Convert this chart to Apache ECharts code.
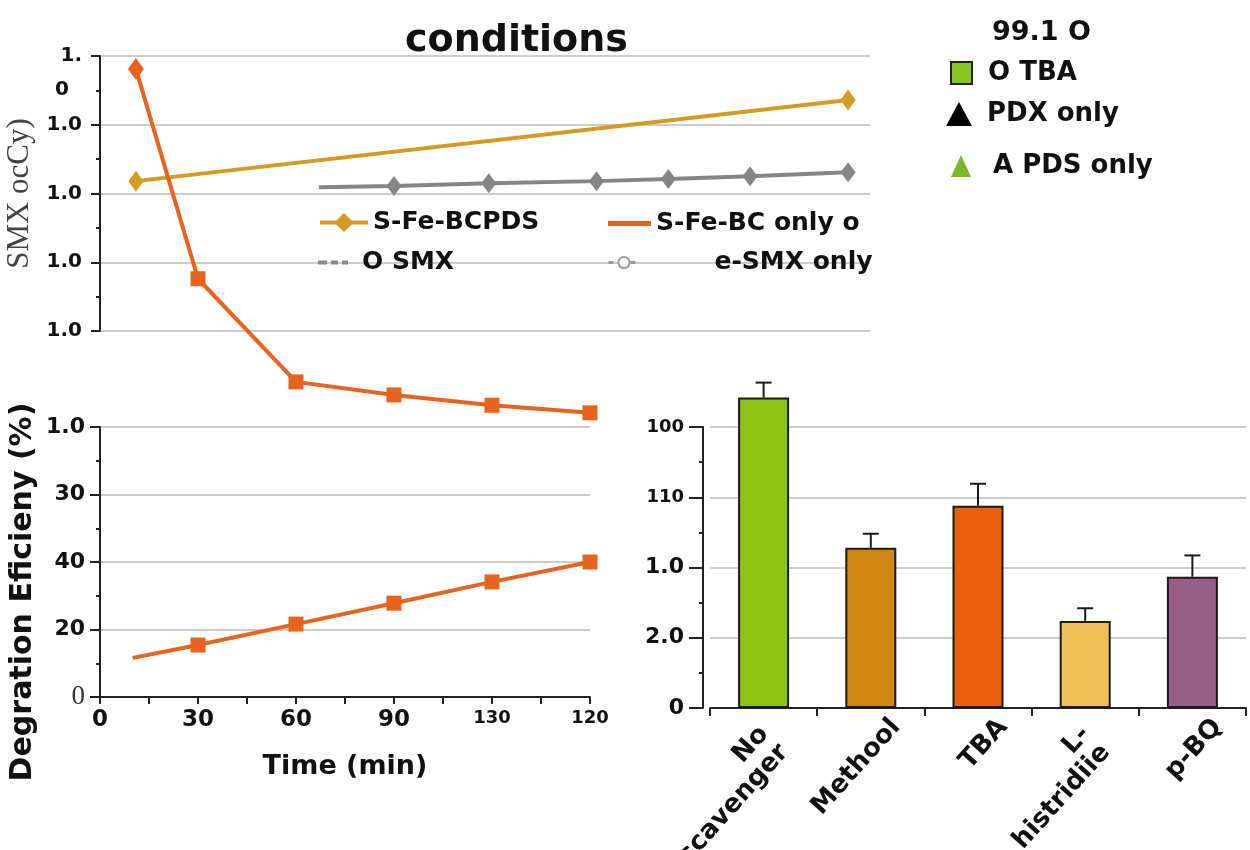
<!DOCTYPE html>
<html>
<head>
<meta charset="utf-8">
<script src="https://cdn.jsdelivr.net/npm/echarts@6/dist/echarts.min.js"></script>
<style>
    html, body { margin: 0; background: #fff; }
    #main { width: 1250px; height: 850px; }
</style>
</head>
<body>
<div id="main"></div>
<script type="text/javascript">
    // tick labels as printed on the figure
    var timeTicks = ['0', '30', '60', '90', '130', '120'];
    var topYTicks = ['1.0', '1.0', '1.0', '1.0', '1.'];
    var lowYTicks = ['0', '20', '40', '30', '1.0'];
    var barYTicks = ['0', '2.0', '1.0', '110', '100'];

    // upper panel series (time, value)
    var fePdsTime = [11, 229];
    var fePdsVal = [2.18, 3.36];
    var smxTime = [67, 90, 119, 152, 174, 199, 229];
    var smxVal = [2.09, 2.11, 2.15, 2.18, 2.21, 2.25, 2.31];
    var feOnlyTime = [11, 30, 60, 90, 120, 150];
    var feOnlyVal = [3.81, 0.76, -0.74, -0.93, -1.08, -1.19];

    // lower panel
    var effTime = [10, 30, 60, 90, 120, 150];
    var effVal = [11.6, 15.4, 21.6, 27.8, 34.1, 40.0];

    // scavenger bars
    var scavengers = ['No\nscavenger', 'Methool', 'TBA', 'L-\nhistridiie', 'p-BQ'];
    var removal = [110.5, 57.0, 72.0, 31.0, 46.7];
    var removalErr = [5.3, 5.0, 7.8, 4.5, 7.6];

    var F = 'DejaVu Sans';
    var barColors = ['#8DC415', '#D08710', '#EA600C', '#EEC155', '#9A5C88'];
    var K = 490 / 150; // px per time unit on the left panels

    var myChart = echarts.init(document.getElementById('main'));

    function pts(xs, ys) {
        return xs.map(function (x, i) { return [x, ys[i]]; });
    }

    function legendAt(name, left, top, extra) {
        var l = {
            data: [name], left: left, top: top, padding: 0, itemGap: 0,
            selectedMode: false, itemWidth: 45, itemHeight: 18,
            lineStyle: {width: 4},
            textStyle: {fontFamily: F, fontWeight: 'bold', fontSize: 25, color: '#111'}
        };
        for (var k in extra) { l[k] = extra[k]; }
        return l;
    }

    var axisLine = {show: true, lineStyle: {color: '#222', width: 2}};
    var gridLine = {show: true, lineStyle: {color: '#cccccc', width: 2}};

    var option = {
        animation: false,
        title: [
            {text: 'conditions', left: 400, top: 17,
                textStyle: {fontFamily: F, fontWeight: 'bold', fontSize: 38, color: '#111'}},
            {text: '99.1 O', left: 987, top: 14,
                textStyle: {fontFamily: F, fontWeight: 'bold', fontSize: 27, color: '#111'}}
        ],
        legend: [
            legendAt('S-Fe-BCPDS', 318, 210, {itemWidth: 48, itemHeight: 24}),
            legendAt('S-Fe-BC only o', 608, 211, {itemWidth: 43, itemHeight: 5,
                data: [{name: 'S-Fe-BC only o', icon: 'rect'}]}),
            legendAt('O SMX', 318, 250, {itemWidth: 30, itemHeight: 5,
                data: [{name: 'O SMX', icon: 'path://M0,0h9v4h-9z M13,0h7v4h-7z M24,0h6v4h-6z'}],
                textStyle: {fontFamily: F, fontWeight: 'bold', fontSize: 25, color: '#111', padding: [0, 0, 0, 9]}}),
            legendAt('e-SMX only', 607, 250, {itemWidth: 31, itemHeight: 14, lineStyle: {width: 3},
                textStyle: {fontFamily: F, fontWeight: 'bold', fontSize: 25, color: '#111', padding: [0, 0, 0, 70]}}),
            legendAt('O TBA', 950, 60, {itemWidth: 21, itemHeight: 22,
                textStyle: {fontFamily: F, fontWeight: 'bold', fontSize: 26, color: '#111', padding: [0, 0, 0, 11]}}),
            legendAt('PDX only', 946, 101, {itemWidth: 26, itemHeight: 24,
                textStyle: {fontFamily: F, fontWeight: 'bold', fontSize: 26, color: '#111', padding: [0, 0, 0, 10]}}),
            legendAt('A PDS only', 951, 153, {itemWidth: 20, itemHeight: 22,
                textStyle: {fontFamily: F, fontWeight: 'bold', fontSize: 26, color: '#111', padding: [0, 0, 0, 17]}})
        ],
        grid: [
            {left: 100, top: 56, width: 770, height: 275, outerBoundsMode: 'none'},
            {left: 100, top: 427, width: 490, height: 270, outerBoundsMode: 'none'},
            {left: 710, right: 4, top: 427, height: 281, outerBoundsMode: 'none'}
        ],
        xAxis: [
            {gridIndex: 0, type: 'value', min: 0, max: 770 / K, show: false},
            {
                gridIndex: 1, type: 'value', min: 0, max: 150, interval: 30,
                axisLine: axisLine, splitLine: {show: false},
                axisTick: {show: true, length: 7, lineStyle: {color: '#222', width: 2}},
                minorTick: {show: true, splitNumber: 2, length: 7, lineStyle: {color: '#222', width: 2}},
                axisLabel: {
                    margin: 12, fontFamily: F, fontWeight: 'bold', fontSize: 23, color: '#111',
                    formatter: function (v) {
                        var s = timeTicks[Math.round(v / 30)];
                        return s.length === 3 ? '{s|' + s + '}' : s;
                    },
                    rich: {s: {fontFamily: F, fontWeight: 'bold', fontSize: 18, color: '#111'}}
                },
                name: 'Time (min)', nameLocation: 'middle', nameGap: 56,
                nameTextStyle: {fontFamily: F, fontWeight: 'bold', fontSize: 27, color: '#111'}
            },
            {
                gridIndex: 2, type: 'category', data: scavengers,
                axisLine: axisLine,
                axisTick: {show: true, length: 8, lineStyle: {color: '#222', width: 2}},
                axisLabel: {
                    rotate: 48, margin: -8, interval: 0, padding: [68, 0, 0, 0],
                    fontFamily: F, fontWeight: 'bold', fontSize: 26, lineHeight: 28, color: '#111',
                    formatter: function (v) {
                        if (v.indexOf('\n') < 0) { return v; }
                        return v.split('\n').map(function (s) { return '{w|' + s + '}'; }).join('\n');
                    },
                    rich: {w: {fontFamily: F, fontWeight: 'bold', fontSize: 26, lineHeight: 27,
                        color: '#111', padding: [0, 22, 0, 0]}}
                }
            }
        ],
        yAxis: [
            {
                gridIndex: 0, type: 'value', min: 0, max: 4, interval: 1,
                axisLine: axisLine, splitLine: gridLine,
                axisTick: {show: true, length: 9, lineStyle: {color: '#222', width: 2}},
                minorTick: {show: true, splitNumber: 2, length: 4, lineStyle: {color: '#222', width: 2}},
                axisLabel: {
                    margin: 18, fontFamily: F, fontWeight: 'bold', fontSize: 20, color: '#111',
                    formatter: function (v) { return topYTicks[v]; }
                },
                name: 'SMX ocCy)', nameLocation: 'middle', nameGap: 60,
                nameTextStyle: {fontFamily: 'Liberation Serif', fontSize: 31, color: '#444'}
            },
            {
                gridIndex: 1, type: 'value', min: 0, max: 80, interval: 20,
                axisLine: axisLine, splitLine: gridLine,
                axisTick: {show: true, length: 10, lineStyle: {color: '#222', width: 2}},
                minorTick: {show: true, splitNumber: 2, length: 4, lineStyle: {color: '#222', width: 2}},
                axisLabel: {
                    margin: 15, fontFamily: F, fontWeight: 'bold', fontSize: 22, color: '#111',
                    formatter: function (v) {
                        var s = lowYTicks[v / 20];
                        return v === 0 ? '{z|' + s + '}' : s;
                    },
                    rich: {z: {fontFamily: 'Liberation Serif', fontWeight: 'normal', fontSize: 27, color: '#333'}}
                }
            },
            {
                gridIndex: 2, type: 'value', min: 0, max: 100, interval: 25, offset: 7,
                axisLine: axisLine, splitLine: gridLine,
                axisTick: {show: true, length: 14, lineStyle: {color: '#222', width: 2}},
                minorTick: {show: true, splitNumber: 2, length: 4, lineStyle: {color: '#222', width: 2}},
                axisLabel: {
                    margin: 19, fontFamily: F, fontWeight: 'bold', fontSize: 22, color: '#111',
                    formatter: function (v) {
                        var s = barYTicks[v / 25];
                        return (s.length === 3 && s.indexOf('.') < 0) ? '{s|' + s + '}' : s;
                    },
                    rich: {s: {fontFamily: F, fontWeight: 'bold', fontSize: 18, color: '#111'}}
                }
            }
        ],
        graphic: [
            {type: 'text', x: 62, y: 90,
                style: {text: '0', fontFamily: F, fontWeight: 'bold', fontSize: 20, fill: '#111',
                    align: 'center', verticalAlign: 'middle'}},
            {type: 'text', x: 23, y: 592, rotation: Math.PI / 2,
                style: {text: 'Degration Eficieny (%)', fontFamily: F, fontWeight: 'bold', fontSize: 30,
                    fill: '#111', align: 'center', verticalAlign: 'middle'}}
        ],
        series: [
            {
                name: 'S-Fe-BCPDS', type: 'line', xAxisIndex: 0, yAxisIndex: 0,
                data: pts(fePdsTime, fePdsVal),
                symbol: 'diamond', symbolSize: [15, 21],
                color: '#D49A22', lineStyle: {width: 4}
            },
            {
                name: 'SMX', type: 'line', xAxisIndex: 0, yAxisIndex: 0,
                data: pts(smxTime, smxVal).map(function (p, i) {
                    return i === 0 ? {value: p, symbol: 'none'} : p;
                }),
                symbol: 'diamond', symbolSize: [15, 20],
                color: '#858585', lineStyle: {width: 4}
            },
            {
                name: 'S-Fe-BC only o', type: 'line', xAxisIndex: 0, yAxisIndex: 0, clip: false,
                data: pts(feOnlyTime, feOnlyVal).map(function (p, i) {
                    return i === 0 ? {value: p, symbol: 'diamond', symbolSize: [16, 22]} : p;
                }),
                symbol: 'rect', symbolSize: 15,
                color: '#E8631D', lineStyle: {width: 4}
            },
            {
                name: 'Efficiency', type: 'line', xAxisIndex: 1, yAxisIndex: 1,
                data: pts(effTime, effVal).map(function (p, i) {
                    return i === 0 ? {value: p, symbol: 'none'} : p;
                }),
                symbol: 'rect', symbolSize: 15,
                color: '#E8631D', lineStyle: {width: 4}
            },
            {name: 'O SMX', type: 'line', data: [], symbol: 'none', color: '#8a8a8a'},
            {name: 'e-SMX only', type: 'line', data: [], symbol: 'emptyCircle', symbolSize: 12,
                color: '#9a9a9a', lineStyle: {width: 3, type: [5, 6]}},
            {name: 'O TBA', type: 'scatter', data: [], symbol: 'rect',
                itemStyle: {color: '#86C61F', borderColor: '#222', borderWidth: 2, opacity: 1}},
            {name: 'PDX only', type: 'scatter', data: [], symbol: 'triangle',
                itemStyle: {color: '#000', opacity: 1}},
            {name: 'A PDS only', type: 'scatter', data: [], symbol: 'triangle',
                itemStyle: {color: '#79B82B', opacity: 1}},
            {
                name: 'Removal', type: 'bar', xAxisIndex: 2, yAxisIndex: 2, clip: false,
                barWidth: 51,
                data: removal.map(function (v, i) {
                    return {value: v, itemStyle: {color: barColors[i]}};
                }),
                itemStyle: {borderColor: '#1a1a1a', borderWidth: 2}
            },
            {
                name: 'Error', type: 'custom', xAxisIndex: 2, yAxisIndex: 2, clip: false,
                data: removal.map(function (v, i) { return [i, v, v + removalErr[i]]; }),
                renderItem: function (params, api) {
                    var base = api.coord([api.value(0), api.value(1)]);
                    var top = api.coord([api.value(0), api.value(2)]);
                    var st = {stroke: '#1a1a1a', lineWidth: 2};
                    return {
                        type: 'group', children: [
                            {type: 'line', shape: {x1: base[0], y1: base[1], x2: top[0], y2: top[1]}, style: st},
                            {type: 'line', shape: {x1: top[0] - 8, y1: top[1], x2: top[0] + 8, y2: top[1]}, style: st}
                        ]
                    };
                }
            }
        ]
    };
    myChart.setOption(option);
</script>
</body>
</html>
